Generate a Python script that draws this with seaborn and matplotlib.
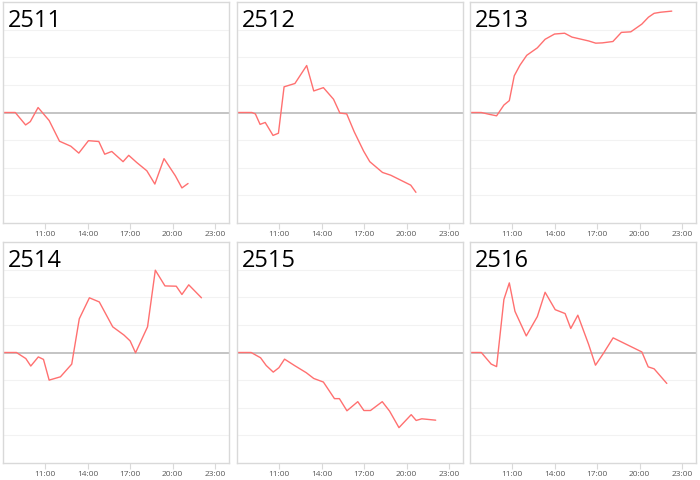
import pandas as pd
import matplotlib
matplotlib.use("Agg")
import matplotlib.pyplot as plt
import seaborn as sns

# Panel codes
codes = ["2511", "2512", "2513", "2514", "2515", "2516"]

# Times and values per panel
t_2511 = ["08:00", "08:52", "09:36", "09:56", "10:29", "11:16", "12:00", "12:48", "13:22", "14:03",
          "14:47", "15:12", "15:42", "16:30", "16:54", "17:28", "18:11", "18:45", "19:24", "20:12",
          "20:40", "21:06"]
v_2511 = [0, 0, -0.45, -0.33, 0.18, -0.29, -1.04, -1.22, -1.47, -1.02,
          -1.05, -1.51, -1.41, -1.78, -1.55, -1.81, -2.11, -2.59, -1.67, -2.29,
          -2.73, -2.57]

t_2512 = ["08:00", "09:03", "09:18", "09:38", "10:00", "10:33", "10:56", "11:20", "12:06", "12:56",
          "13:26", "14:07", "14:50", "15:17", "15:46", "16:18", "16:58", "17:24", "18:18", "18:53",
          "20:18", "20:40"]
v_2512 = [0, 0, -0.05, -0.43, -0.36, -0.83, -0.75, 0.93, 1.05, 1.70,
          0.78, 0.90, 0.48, -0.02, -0.05, -0.70, -1.40, -1.78, -2.17, -2.27,
          -2.63, -2.89]

t_2513 = ["08:00", "08:48", "09:24", "09:53", "10:24", "10:47", "11:08", "11:32", "12:01", "12:46",
          "13:19", "13:59", "14:42", "15:13", "16:24", "16:54", "17:22", "18:07", "18:43", "19:23",
          "20:10", "20:38", "21:02", "21:30", "22:17"]
v_2513 = [0, 0, -0.07, -0.12, 0.27, 0.43, 1.33, 1.71, 2.07, 2.34,
          2.65, 2.84, 2.87, 2.73, 2.59, 2.51, 2.52, 2.57, 2.90, 2.92,
          3.20, 3.45, 3.59, 3.63, 3.67]

t_2514 = ["08:00", "08:57", "09:37", "09:58", "10:30", "10:52", "11:16", "12:04", "12:52", "13:24",
          "14:07", "14:49", "15:46", "16:34", "17:00", "17:23", "18:14", "18:47", "19:28", "20:16",
          "20:40", "21:09", "22:03"]
v_2514 = [0, 0, -0.22, -0.49, -0.16, -0.25, -1.00, -0.88, -0.42, 1.22,
          1.98, 1.83, 0.93, 0.63, 0.42, -0.01, 0.93, 2.98, 2.41, 2.40,
          2.10, 2.45, 1.98]

t_2515 = ["08:00", "09:00", "09:40", "10:04", "10:34", "10:58", "11:22", "12:04", "12:54", "13:26",
          "14:07", "14:54", "15:15", "15:47", "16:33", "16:59", "17:27", "18:17", "18:48", "19:28",
          "20:20", "20:41", "21:05", "22:04"]
v_2515 = [0, 0, -0.19, -0.47, -0.71, -0.55, -0.24, -0.47, -0.73, -0.94,
          -1.07, -1.67, -1.67, -2.11, -1.78, -2.10, -2.10, -1.78, -2.12, -2.72,
          -2.25, -2.46, -2.40, -2.45]

t_2516 = ["08:00", "08:48", "09:30", "09:53", "10:24", "10:47", "11:11", "11:59", "12:46", "13:19",
          "14:02", "14:44", "15:08", "15:38", "16:24", "16:53", "17:26", "18:08", "20:10", "20:37",
          "21:02", "21:56"]
v_2516 = [0, 0, -0.42, -0.51, 1.92, 2.52, 1.49, 0.60, 1.30, 2.18,
          1.55, 1.41, 0.87, 1.35, 0.29, -0.46, -0.04, 0.53, 0.02, -0.52,
          -0.59, -1.12]

times = [t_2511, t_2512, t_2513, t_2514, t_2515, t_2516]
values = [v_2511, v_2512, v_2513, v_2514, v_2515, v_2516]

tick_hours = [11, 14, 17, 20, 23]
tick_labels = ["11:00", "14:00", "17:00", "20:00", "23:00"]


def to_hours(s):
    h, m = s.split(":")
    return int(h) + int(m) / 60


frames = []
for code, t, v in zip(codes, times, values):
    frames.append(pd.DataFrame({"code": code, "hour": [to_hours(x) for x in t], "value": v}))
df = pd.concat(frames, ignore_index=True)

sns.set_style("white")
plt.rcParams["font.family"] = ["Open Sans", "DejaVu Sans"]

fig = plt.figure(figsize=(7, 4.81), dpi=100)

lefts = [3, 237, 470]
tops = [3, 243]
w, h = 226, 221

for i, code in enumerate(codes):
    r, c = divmod(i, 3)
    ax = fig.add_axes([lefts[c] / 700, 1 - (tops[r] + h) / 481, w / 700, h / 481])
    sub = df[df["code"] == code]
    for g in [-3, -2, -1, 1, 2, 3]:
        ax.axhline(g, color="#f2f2f2", lw=0.8, zorder=0)
    ax.axhline(0, color="#bfbfbf", lw=1.3, zorder=1)
    sns.lineplot(data=sub, x="hour", y="value", ax=ax, color="#ff7070", lw=1.0, zorder=2)
    ax.set_xlim(8, 24)
    ax.set_ylim(-4, 4)
    ax.set_xticks(tick_hours)
    ax.set_xticklabels(tick_labels)
    ax.set_yticks([])
    ax.set_xlabel("")
    ax.set_ylabel("")
    ax.tick_params(axis="x", length=4, width=0.8, color="#d9d9d9", pad=1,
                   labelsize=6, labelcolor="#595959", bottom=True)
    for sp in ax.spines.values():
        sp.set_color("#d9d9d9")
        sp.set_linewidth(1.0)
    ax.text(0.02, 0.89, code, transform=ax.transAxes, fontsize=17, color="black",
            ha="left", va="baseline")

fig.savefig("out.png", dpi=100)
